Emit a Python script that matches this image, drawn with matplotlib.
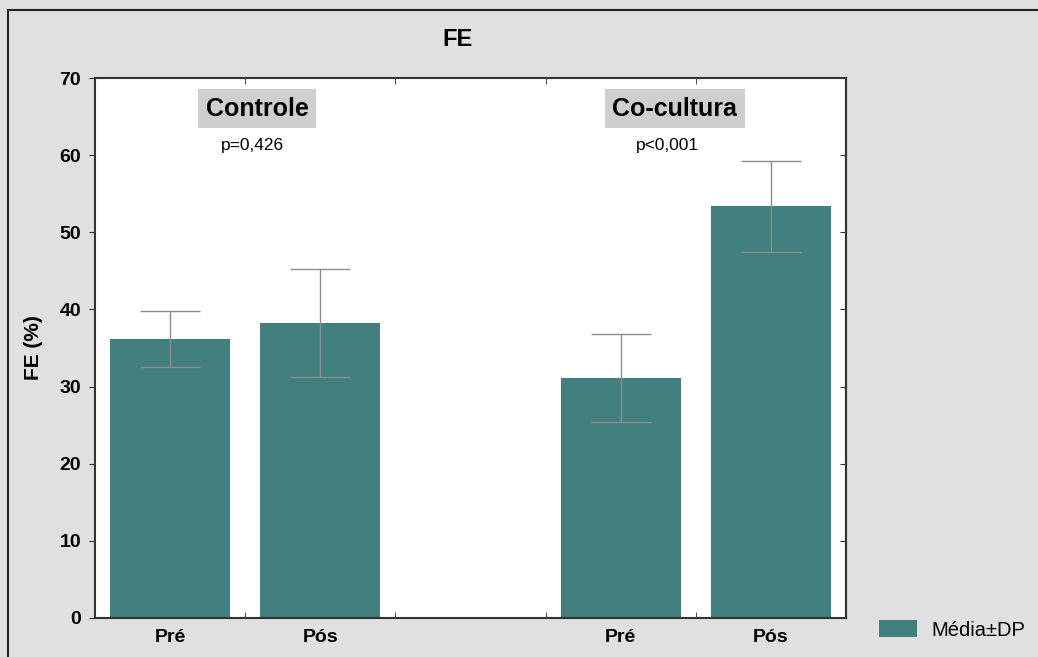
import matplotlib.pyplot as plt
from matplotlib.patches import Rectangle

plt.rcParams['font.family'] = ['Liberation Sans', 'DejaVu Sans']

# data
groups = ['Controle', 'Co-cultura']
group_x = [0.58, 3.36]
p_values = ['p=0,426', 'p<0,001']
p_x = [0.55, 3.31]
tick_labels = ['Pré', 'Pós', '', 'Pré', 'Pós']
positions = [0, 1, 3, 4]
means = [36.2, 38.2, 31.1, 53.4]
sds = [3.6, 7.0, 5.7, 5.9]

bar_color = '#427f7f'
bg = '#e0e0e0'

fig = plt.figure(figsize=(10.38, 6.57), dpi=100)
fig.patch.set_facecolor(bg)
ax = fig.add_axes([95 / 1038, 39 / 657, 751 / 1038, 540 / 657])
ax.set_facecolor('white')

ax.bar(positions, means, width=0.8, color=bar_color, label='Média±DP', zorder=2)
ax.errorbar(positions, means, yerr=sds, fmt='none', ecolor='#8c8c8c',
            elinewidth=1, capsize=21.6, capthick=1, zorder=3)

ax.set_xlim(-0.5, 4.5)
ax.set_ylim(0, 70)
ax.set_yticks(range(0, 71, 10))
ax.set_xticks(range(5))
ax.set_xticklabels(tick_labels, fontsize=14, fontweight='bold')
for lbl in ax.get_yticklabels():
    lbl.set_fontsize(14)
    lbl.set_fontweight('bold')

ax.tick_params(axis='x', which='major', length=0, pad=8)
ax.set_xticks([0.5, 1.5, 2.5, 3.5], minor=True)
ax.tick_params(axis='x', which='minor', direction='in', length=4,
               top=True, bottom=True, color='#333333')
ax.tick_params(axis='y', direction='out', length=4, pad=6, color='#333333')

# inward ticks on the right side
sec = ax.secondary_yaxis('right')
sec.set_yticks(range(0, 71, 10))
sec.tick_params(direction='in', length=4, labelright=False, color='#333333')
sec.spines['right'].set_color('#333333')
sec.spines['right'].set_linewidth(1.5)

for side in ['left', 'right', 'top', 'bottom']:
    ax.spines[side].set_color('#333333')
    ax.spines[side].set_linewidth(1.5)

ax.set_ylabel('FE (%)', fontsize=15, fontweight='bold', labelpad=12)
fig.text(458 / 1038, 1 - 40 / 657, 'FE', fontsize=17, fontweight='bold',
         ha='center', va='center')

# group labels
for gx, g in zip(group_x, groups):
    ax.text(gx, 66.0, g, fontsize=18, fontweight='bold', ha='center', va='center',
            bbox=dict(boxstyle='square,pad=0.3', facecolor='#cfcfcf', edgecolor='none'))
for px, p in zip(p_x, p_values):
    ax.text(px, 61.3, p, fontsize=12.5, ha='center', va='center')

# outer frame
fig.patches.append(Rectangle((8 / 1038, -0.1), 2, 1 - 10 / 657 + 0.1,
                             transform=fig.transFigure, fill=False,
                             edgecolor='#222222', linewidth=1.5))

fig.legend(loc='center left', bbox_to_anchor=(861 / 1038, 1 - 630 / 657),
           frameon=False, fontsize=14.5, handlelength=1.88, handleheight=0.9,
           handletextpad=0.7)

fig.savefig('out.png', dpi=100, facecolor=bg)
